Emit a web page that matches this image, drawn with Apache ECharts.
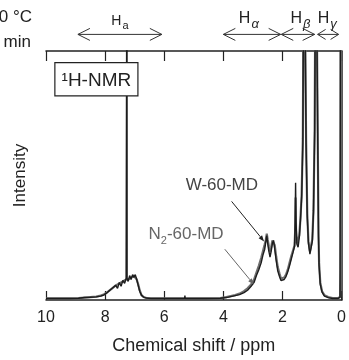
<!DOCTYPE html>
<html><head><meta charset="utf-8">
<script src="https://cdn.jsdelivr.net/npm/echarts@6/dist/echarts.min.js"></script>
<style>html,body{margin:0;padding:0;background:#fff}#c{width:349px;height:360px}</style>
</head><body><div id="c"></div>
<script>
// Chemical shift grid (ppm), shared by both spectra
const ppm = [10.0,9.6,9.2,8.9,8.7,8.5,8.3,8.15,8.05,7.95,7.88,7.82,7.76,7.7,7.64,7.58,7.52,7.46,7.40,7.34,7.29,7.265,7.26,7.255,7.22,7.17,7.12,7.07,7.03,6.98,6.93,6.88,6.83,6.77,6.70,6.6,6.45,6.2,5.6,5.31,5.30,5.29,4.6,4.1,3.9,3.75,3.6,3.45,3.3,3.18,3.06,2.96,2.88,2.80,2.72,2.66,2.60,2.56,2.53,2.50,2.46,2.42,2.38,2.34,2.30,2.26,2.21,2.16,2.10,2.05,2.00,1.94,1.88,1.82,1.76,1.70,1.64,1.59,1.57,1.555,1.54,1.51,1.47,1.43,1.39,1.35,1.31,1.27,1.24,1.20,1.16,1.12,1.07,1.03,0.99,0.95,0.91,0.87,0.84,0.80,0.78,0.76,0.72,0.66,0.58,0.45,0.30,0.12,0.05,0.035,0.02,0.0];
// W-60-MD intensity (a.u.)
const wIntensity = [1.5,1.5,1.5,1.8,2.5,2.8,3.2,4,5,7,9,7,12,10,15,12,18,14,20,17,22,21,420,22,19,25,21,26,23,26,21,15,9,5,3,2,1.5,1.5,1.5,1.5,4.5,1.5,1.5,1.8,2.5,3.5,4.5,5.5,7.5,10,14,18,25,31,38,46,52,60,66,58,50,44,50,58,61,52,40,30,24,20,20,21,24,29,35,42,49,55,80,120,80,57,54,64,82,105,160,420,420,160,85,58,47,48,60,90,170,420,420,140,65,35,16,8,4,2.5,1.5,1.5,3,420,420,420];
// N2-60-MD intensity (a.u.)
const n2Intensity = [1.8,1.8,1.8,2,2.5,3,3.5,4.5,5.5,7.5,9,9,12,12,15,15,17,17,19,19,21,21,22,22,21,23,23,25,25,24,21,16,10,5,3,2,1.8,1.8,1.8,1.8,3,1.8,1.8,2,3,4,5,6.5,9,12,16,21,28,35,43,50,57,62,68,62,55,49,54,61,63,56,44,34,27,22,22,23,26,31,38,45,51,56,70,105,70,58,56,66,84,108,165,420,420,165,88,60,50,51,62,92,175,420,420,145,68,38,18,9,5,3,2,2,3,30,420,420];
const seriesNames = ['N2-60-MD','W-60-MD'];
const xTickInterval = 2;

// Annotation anchors in data units (ppm, intensity)
const bracketSubs = ['a','α','β','γ'];
const bracketFrom = [8.92, 4.00, 2.04, 0.81];
const bracketTo = [6.08, 2.06, 0.91, 0.10];
const bracketLabelPpm = [7.62, 3.28, 1.53, 0.61];

const chart = echarts.init(document.getElementById('c'), null, {renderer:'canvas'});
const FONT = '"Liberation Sans", Arial, sans-serif';
const zip = (a,b)=>a.map((v,i)=>[v,b[i]]);

chart.setOption({
  animation:false,
  backgroundColor:'#fff',
  grid:{left:46,right:7,top:51,bottom:54,containLabel:false},
  xAxis:[{
    type:'value',min:0,max:10,interval:xTickInterval,inverse:true,position:'bottom',
    name:'Chemical shift / ppm',nameLocation:'middle',nameGap:37,
    nameTextStyle:{fontSize:18,color:'#222',fontFamily:FONT},
    axisLine:{show:true,lineStyle:{color:'#222',width:1.5}},
    axisTick:{show:true,inside:true,length:9,lineStyle:{color:'#222',width:1.2}},
    axisLabel:{show:true,margin:10,fontSize:16,color:'#222',fontFamily:FONT},
    splitLine:{show:false}
  },{
    type:'value',min:0,max:10,interval:xTickInterval,inverse:true,position:'top',
    axisLine:{show:true,lineStyle:{color:'#222',width:1.5}},
    axisTick:{show:true,inside:true,length:10,lineStyle:{color:'#222',width:1.2}},
    axisLabel:{show:false},splitLine:{show:false}
  }],
  yAxis:{
    type:'value',min:0,max:255,
    name:'Intensity',nameLocation:'middle',nameGap:17,
    nameTextStyle:{fontSize:17,color:'#222',fontFamily:FONT},
    axisLine:{show:true,lineStyle:{color:'#222',width:1.5}},
    axisTick:{show:false},axisLabel:{show:false},splitLine:{show:false}
  },
  series:[{
    name:seriesNames[0],type:'line',xAxisIndex:0,data:zip(ppm,n2Intensity),
    showSymbol:false,symbol:'none',clip:true,
    lineStyle:{color:'#6e6e6e',width:2.2}
  },{
    name:seriesNames[1],type:'line',xAxisIndex:0,data:zip(ppm,wIntensity),
    showSymbol:false,symbol:'none',clip:true,
    lineStyle:{color:'#1c1c1c',width:1.4}
  }]
});

const P = (p,v)=>chart.convertToPixel({xAxisIndex:0,yAxisIndex:0},[p,v]);
const mctx = document.createElement('canvas').getContext('2d');
const tw = (t,size,style)=>{mctx.font=(style||'')+' '+size+'px '+FONT;return mctx.measureText(t).width;};
const txt = (x,y,t,size,fill,align,extra)=>Object.assign({type:'text',x:x,y:y,z:100,style:Object.assign({text:t,fontSize:size,fontFamily:FONT,fill:fill,align:align||'left',verticalAlign:'middle',textAlign:align||'left',textVerticalAlign:'middle'},extra||{})});
const g = [];

// double-headed brackets above the frame
const bracketVal = 272;
const headL = [12,12,12,8], headH = [6,6,6,5];
for(let i=0;i<bracketFrom.length;i++){
  const a = P(bracketFrom[i],bracketVal), b = P(bracketTo[i],bracketVal);
  const y = a[1], L=headL[i], H=headH[i];
  g.push({type:'polyline',z:100,shape:{points:[[a[0],y],[b[0],y]]},style:{stroke:'#333',lineWidth:1,fill:null}});
  g.push({type:'polyline',z:100,shape:{points:[[a[0]+L,y-H],[a[0],y],[a[0]+L,y+H]]},style:{stroke:'#333',lineWidth:1,fill:null}});
  g.push({type:'polyline',z:100,shape:{points:[[b[0]-L,y-H],[b[0],y],[b[0]-L,y+H]]},style:{stroke:'#333',lineWidth:1,fill:null}});
  const hs = i===0?14:16, ss = i===0?11:13;
  const c = P(bracketLabelPpm[i], i===0?286:288);
  const hw = tw('H',hs);
  g.push(txt(c[0]-hw/2,c[1],'H',hs,'#222','left'));
  g.push(txt(c[0]+hw/2+1,c[1]+(i===0?5.5:6),bracketSubs[i],ss,'#222','left',i===0?{}:{fontStyle:'italic'}));
}

// 1H-NMR box
const b1 = P(9.70,243), b2 = P(6.89,209);
g.push({type:'rect',z:99,shape:{x:b1[0],y:b1[1],width:b2[0]-b1[0],height:b2[1]-b1[1]},style:{fill:'#fff',stroke:'#222',lineWidth:1.2}});
g.push(txt((b1[0]+b2[0])/2,(b1[1]+b2[1])/2+1,'¹H-NMR',19,'#222','center'));

// series labels and pointers
const wT = P(4.05,117);
g.push(txt(wT[0],wT[1],seriesNames[1],17,'#444','center'));
const wa = P(3.72,101), wb = P(2.62,60);
const nT = P(6.53,67);
const nW = tw('N',17);
g.push(txt(nT[0],nT[1],'N',17,'#666','left'));
g.push(txt(nT[0]+nW,nT[1]+6,'2',11,'#666','left'));
g.push(txt(nT[0]+nW+tw('2',11),nT[1],'-60-MD',17,'#666','left'));
const na = P(3.95,52), nb = P(2.97,16);
function pointer(a,b,col){
  const dx=b[0]-a[0], dy=b[1]-a[1], len=Math.hypot(dx,dy), ux=dx/len, uy=dy/len;
  const bl=6, bw=2.2, base=[b[0]-ux*bl,b[1]-uy*bl];
  g.push({type:'polyline',z:100,shape:{points:[a,base]},style:{stroke:col,lineWidth:1,fill:null}});
  g.push({type:'polygon',z:100,shape:{points:[b,[base[0]-uy*bw,base[1]+ux*bw],[base[0]+uy*bw,base[1]-ux*bw]]},style:{fill:col,stroke:null}});
}
pointer(wa,wb,'#222');
pointer(na,nb,'#666');

// cropped fragments at the top-left corner
g.push(txt(32,17,'60 °C',17,'#222','right'));
g.push(txt(31,42,'60 min',17,'#222','right'));

chart.setOption({graphic:g});
</script></body></html>
